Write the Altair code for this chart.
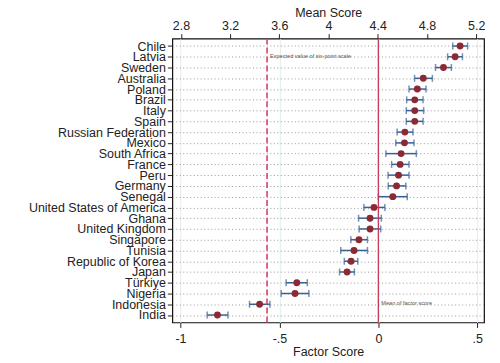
import altair as alt
import pandas as pd

countries = ["Chile", "Latvia", "Sweden", "Australia", "Poland", "Brazil", "Italy", "Spain",
             "Russian Federation", "Mexico", "South Africa", "France", "Peru", "Germany", "Senegal",
             "United States of America", "Ghana", "United Kingdom", "Singapore", "Tunisia",
             "Republic of Korea", "Japan", "Türkiye", "Nigeria", "Indonesia", "India"]
score = [0.413, 0.388, 0.329, 0.227, 0.197, 0.184, 0.184, 0.184,
         0.134, 0.132, 0.115, 0.110, 0.102, 0.092, 0.073,
         -0.022, -0.042, -0.042, -0.098, -0.123,
         -0.138, -0.158, -0.412, -0.421, -0.600, -0.813]
lower = [0.376, 0.350, 0.289, 0.183, 0.155, 0.143, 0.141, 0.141,
         0.095, 0.088, 0.038, 0.067, 0.049, 0.050, 0.000,
         -0.073, -0.100, -0.097, -0.139, -0.190,
         -0.172, -0.196, -0.466, -0.491, -0.651, -0.865]
upper = [0.451, 0.425, 0.369, 0.273, 0.241, 0.226, 0.229, 0.226,
         0.175, 0.180, 0.192, 0.155, 0.155, 0.139, 0.146,
         0.033, 0.015, 0.012, -0.055, -0.055,
         -0.104, -0.121, -0.359, -0.351, -0.548, -0.760]

mean_ticks = [2.8, 3.2, 3.6, 4.0, 4.4, 4.8, 5.2]
factor_ticks = [-1, -0.5, 0, 0.5]
expected_mean = 3.5
factor_mean = 0.0

df = pd.DataFrame({"country": countries, "score": score, "lo": lower, "hi": upper})

FONT = "Liberation Sans"
y_enc = alt.Y("country:N", sort=countries, title=None,
              scale=alt.Scale(type="point", padding=0.69),
              axis=alt.Axis(labelFontSize=12.5, labelColor="#222", labelFont=FONT,
                            tickSize=5, tickColor="#222", domain=False,
                            grid=True, gridColor="#999999", gridDash=[1, 2.5], gridWidth=1,
                            labelPadding=2))

xscale = alt.Scale(domain=[-1.041, 0.534], nice=False, zero=False)
x_axis = alt.Axis(values=factor_ticks, title="Factor Score", titleFontSize=12.5,
                  titleFont=FONT, titleFontWeight="normal", titleColor="#222",
                  labelFont=FONT, labelFontSize=12.5, labelColor="#222",
                  labelExpr="datum.value == -1 ? '-1' : datum.value == -0.5 ? '-.5' : datum.value == 0 ? '0' : '.5'",
                  tickSize=5, tickColor="#222", domain=False, titlePadding=1,
                  grid=True, gridColor="#e2eeee", gridWidth=1, labelPadding=5)

base = alt.Chart(df)

bars = base.mark_rule(color="#3a6190", strokeWidth=1.5).encode(
    x=alt.X("lo:Q", scale=xscale, axis=x_axis), x2="hi:Q", y=y_enc)
cap_lo = base.mark_tick(color="#3a6190", orient="vertical", size=7, thickness=1.5).encode(
    x=alt.X("lo:Q", scale=xscale), y=alt.Y("country:N", sort=countries))
cap_hi = base.mark_tick(color="#3a6190", orient="vertical", size=7, thickness=1.5).encode(
    x=alt.X("hi:Q", scale=xscale), y=alt.Y("country:N", sort=countries))
dots = base.mark_circle(color="#8b2a35", opacity=1, size=48).encode(
    x=alt.X("score:Q", scale=xscale), y=alt.Y("country:N", sort=countries))

mean_line = alt.Chart(pd.DataFrame({"v": [factor_mean]})).mark_rule(
    color="#c43c5a", strokeWidth=1.3).encode(x=alt.X("v:Q", scale=xscale))
mean_text = alt.Chart(pd.DataFrame({"v": [factor_mean], "t": ["Mean of factor score"]})).mark_text(
    align="left", baseline="middle", dx=3, fontSize=5.6, color="#555", font=FONT).encode(
    x=alt.X("v:Q", scale=xscale), y=alt.value(265.5), text="t:N")

main = alt.layer(bars, cap_lo, cap_hi, dots, mean_line, mean_text)

top_scale = alt.Scale(domain=[2.730, 5.264], nice=False, zero=False)
top_axis = alt.Axis(orient="top", values=mean_ticks, format="~g", title="Mean Score",
                    titleFontSize=12.5, titleFont=FONT, titleFontWeight="normal", titleColor="#222",
                    labelFont=FONT, labelFontSize=12.5, labelColor="#222",
                    tickSize=5, tickColor="#222", domain=False, grid=False, titlePadding=0,
                    labelPadding=1)
exp_line = alt.Chart(pd.DataFrame({"m": [expected_mean]})).mark_rule(
    color="#d9416b", strokeWidth=1.6, strokeDash=[6, 3]).encode(
    x=alt.X("m:Q", scale=top_scale, axis=top_axis))
exp_text = alt.Chart(pd.DataFrame({"m": [expected_mean], "t": ["Expected value of six-point scale"]})).mark_text(
    align="left", baseline="middle", dx=3, fontSize=5.6, color="#555", font=FONT).encode(
    x=alt.X("m:Q", scale=top_scale), y=alt.value(17), text="t:N")
top = alt.layer(exp_line, exp_text)

chart = alt.layer(main, top).resolve_scale(x="independent").properties(
    width=313, height=285,
    autosize=alt.AutoSizeParams(type="none"),
    padding={"left": 165, "top": 30, "right": 8, "bottom": 40},
    background="white",
).configure_view(stroke="#111", strokeWidth=1.2)

chart.save("out.html", embed_options={"renderer": "svg", "actions": False})
